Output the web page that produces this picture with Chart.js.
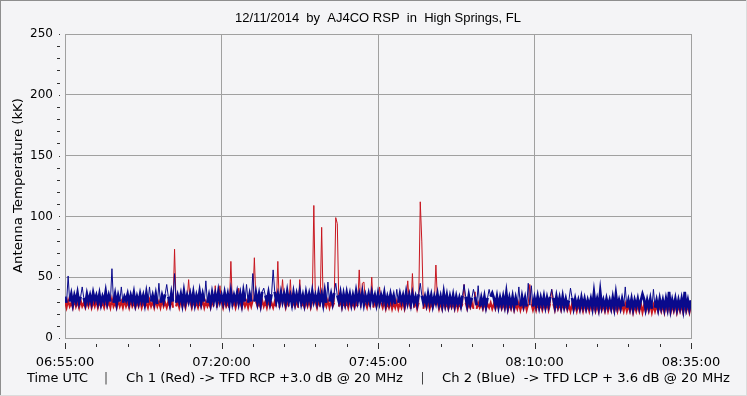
<!DOCTYPE html>
<html>
<head>
<meta charset="utf-8">
<title>AJ4CO RSP 12/11/2014</title>
<script src="https://cdn.jsdelivr.net/npm/chart.js@4.4.0/dist/chart.umd.min.js"></script>
<style>
    html, body { margin: 0; padding: 0; background: #f4f4f6; }
    #wrap { width: 747px; height: 396px; }
</style>
</head>
<body>
<div id="wrap"><canvas id="rsp-chart" width="747" height="396"></canvas></div>
<script>
// Sampling: one reading every 15 s from 06:55:00 UTC
const SAMPLE_STEP_MIN = 0.25;

// Tick labels
const timeLabels = ['06:55:00', '07:20:00', '07:45:00', '08:10:00', '08:35:00'];
const timeTickMinutes = [0, 25, 50, 75, 100];
const tempTicks = [0, 50, 100, 150, 200, 250];

// Ch 2 (Blue) -> TFD LCP, antenna temperature in kK (one row = 5 minutes)
const ch2Blue = [
    34,29,51,30,36,28,35,30,37,29,34,42,33,28,36,30,35,29,37,31,
    35,29,36,28,34,30,38,29,35,30,57,29,36,28,35,30,42,29,34,31,
    36,29,35,30,37,28,34,29,36,30,35,28,37,29,42,30,35,29,36,28,
    45,29,35,30,36,44,34,28,37,30,53,29,35,30,36,28,38,29,35,30,
    36,29,37,28,35,30,38,29,36,30,47,29,35,28,37,30,36,29,38,30,
    35,29,37,30,36,28,38,29,35,30,37,29,36,28,38,30,44,29,36,30,
    53,30,37,29,36,28,38,41,35,30,37,29,36,56,38,30,36,29,37,30,
    36,29,38,30,35,28,37,29,36,30,38,29,35,28,37,30,36,29,38,30,
    35,29,37,30,36,28,38,29,46,30,36,29,37,45,35,30,37,28,36,29,
    37,30,36,28,35,29,38,30,36,29,37,28,35,30,36,29,37,30,35,28,
    36,29,35,30,37,28,34,29,36,30,35,28,40,29,36,30,35,28,37,29,
    35,28,36,29,34,28,36,45,35,29,34,28,36,29,35,27,34,29,36,28,
    34,27,37,28,35,27,34,28,35,27,34,28,33,27,35,44,34,27,35,28,
    33,40,34,27,43,26,33,27,34,26,33,40,34,37,33,27,34,26,33,27,
    34,27,37,26,33,27,34,26,33,27,42,26,34,27,33,26,45,27,43,26,
    33,27,34,26,33,27,34,26,33,27,34,40,33,26,34,27,33,26,34,26,
    32,26,31,41,33,25,32,26,31,25,33,26,32,25,31,26,32,25,37,26,
    32,25,38,26,31,25,32,26,31,25,33,25,36,26,31,25,32,26,42,25,
    31,25,32,24,31,26,32,25,31,36,32,24,31,25,32,24,40,25,31,24,
    32,25,31,24,32,25,38,24,31,25,32,24,31,25,32,24,38,25,31,24,
    31
];

// Ch 1 (Red) -> TFD RCP, antenna temperature in kK
const ch1Red = [
    30,25,31,26,29,25,32,26,30,25,31,26,29,25,30,26,31,25,30,26,
    31,25,30,26,29,25,31,26,30,25,32,26,29,25,31,26,30,25,31,26,
    30,25,31,26,29,25,30,26,31,25,30,26,29,25,31,26,30,25,31,26,
    30,25,31,26,29,25,30,26,31,25,73,26,30,25,31,26,30,25,31,48,
    30,25,31,26,29,25,30,26,31,25,30,26,29,25,31,26,43,25,30,43,
    30,25,31,26,29,25,63,26,31,25,30,41,29,25,31,26,30,25,31,26,
    31,66,30,26,29,25,31,26,30,25,31,26,29,25,30,26,63,25,31,48,
    30,25,31,26,48,25,30,26,31,25,48,26,29,25,30,26,31,25,30,109,
    30,25,31,26,91,25,30,26,31,25,30,26,29,99,94,26,31,25,30,26,
    30,25,31,26,29,25,30,26,56,25,45,46,29,25,31,26,50,25,30,26,
    30,42,29,25,30,24,29,25,30,24,29,25,30,24,29,25,30,24,29,47,
    29,24,53,25,30,24,29,112,79,24,29,25,30,24,29,25,29,60,30,24,
    29,24,30,25,29,24,28,25,29,24,30,24,29,25,28,44,29,24,28,25,
    29,24,38,24,29,25,28,24,29,24,28,25,29,24,28,24,29,25,28,24,
    28,24,29,23,28,24,29,23,28,24,29,23,28,24,29,23,28,44,28,23,
    28,23,29,24,28,23,28,24,29,23,28,40,28,23,29,24,28,23,28,24,
    28,23,27,22,28,23,27,22,28,23,27,22,28,23,27,22,28,23,27,22,
    27,22,28,23,27,22,28,22,27,23,28,22,27,22,28,23,27,22,28,22,
    27,22,28,21,27,22,27,22,28,21,27,22,27,22,28,21,27,22,27,22,
    27,22,27,21,28,22,27,21,27,22,28,21,27,22,27,21,27,22,27,21,
    27
];

const TITLE_TEXT = '12/11/2014  by  AJ4CO RSP  in  High Springs, FL';
const Y_TITLE = 'Antenna Temperature (kK)';

// Footer pieces: text, left edge, width
const footerParts = [
    ['Time UTC', 27, 61],
    ['|', 104.5, 3],
    ['Ch 1 (Red) -> TFD RCP +3.0 dB @ 20 MHz', 126, 277],
    ['|', 421, 3],
    ['Ch 2 (Blue)  -> TFD LCP + 3.6 dB @ 20 MHz', 442, 288]
];

const AXIS_FONT = 'DejaVu Sans';
const GRID_COLOR = '#a0a0a0';

// Pair each reading with its time offset (minutes after 06:55:00)
function toPoints(values) {
    return values.map((v, i) => ({ x: i * SAMPLE_STEP_MIN, y: v }));
}

// Thicker stroke inside the noise band so it reads as a solid trace, thin on spikes
function bandWidth(limit, wide) {
    return ctx => Math.max(ctx.p0.parsed.y, ctx.p1.parsed.y) > limit ? 1 : wide;
}

// Draw text squeezed/stretched to a given width
function drawFitted(ctx, text, x, y, width) {
    const measured = ctx.measureText(text).width;
    ctx.save();
    ctx.translate(x, y);
    ctx.scale(width / measured, 1);
    ctx.textAlign = 'left';
    ctx.fillText(text, 0, 0);
    ctx.restore();
}

// Background, frame, minor ticks and free text
const framePlugin = {
    id: 'frame',
    beforeDraw(chart) {
        const ctx = chart.ctx;
        ctx.save();
        ctx.fillStyle = '#f4f4f6';
        ctx.fillRect(0, 0, chart.width, chart.height);
        ctx.fillStyle = '#8e8e8e';
        ctx.fillRect(0, 0, chart.width, 1);
        ctx.fillRect(0, 0, 1, chart.height);
        ctx.fillStyle = '#dcdcdc';
        ctx.fillRect(0, chart.height - 1, chart.width, 1);
        ctx.fillRect(chart.width - 1, 0, 1, chart.height);
        ctx.restore();
    },
    afterDraw(chart) {
        const ctx = chart.ctx;
        const xs = chart.scales.x;
        const ys = chart.scales.y;
        const area = chart.chartArea;
        ctx.save();
        ctx.fillStyle = '#303030';

        // x ticks: long at 25 min, short every 5 min
        for (let m = 0; m <= 100; m += 5) {
            const px = Math.round(xs.getPixelForValue(m));
            if (m % 25 === 0) {
                ctx.fillRect(px, area.bottom + 5, 1, 6);
            } else {
                ctx.fillRect(px, area.bottom + 6, 1, 3);
            }
        }

        // y ticks: dots at labels, short dashes every 10
        for (let v = 0; v <= 250; v += 10) {
            const py = Math.round(ys.getPixelForValue(v));
            if (v % 50 === 0) {
                ctx.fillRect(area.left - 6, py, 1, 1);
            } else {
                ctx.fillRect(area.left - 8, py, 3, 1);
            }
        }

        // Title
        ctx.fillStyle = '#000';
        ctx.textBaseline = 'middle';
        ctx.textAlign = 'center';
        ctx.font = '13px "Liberation Sans", Arial, sans-serif';
        ctx.fillText(TITLE_TEXT, 378, 18);

        // Footer
        ctx.font = '13px "' + AXIS_FONT + '", sans-serif';
        footerParts.forEach(([text, x, w]) => drawFitted(ctx, text, x, 379, w));

        // Y axis title
        ctx.translate(19, (area.top + area.bottom) / 2);
        ctx.rotate(-Math.PI / 2);
        drawFitted(ctx, Y_TITLE, -87, 0, 175);
        ctx.restore();
    }
};

function initializeChart() {
    Chart.defaults.font.family = AXIS_FONT;
    Chart.defaults.font.size = 12;
    Chart.defaults.color = '#000';

    new Chart(document.getElementById('rsp-chart'), {
        type: 'line',
        data: {
            datasets: [
                {
                    label: 'Ch 2 (Blue)',
                    data: toPoints(ch2Blue),
                    borderColor: '#0a0a8c',
                    borderWidth: 1,
                    segment: { borderWidth: bandWidth(39, 2.7) },
                    pointRadius: 0,
                    tension: 0,
                    fill: false
                },
                {
                    label: 'Ch 1 (Red)',
                    data: toPoints(ch1Red),
                    borderColor: '#c8161f',
                    borderWidth: 1,
                    segment: { borderWidth: bandWidth(34, 2) },
                    pointRadius: 0,
                    tension: 0,
                    fill: false
                }
            ]
        },
        options: {
            responsive: false,
            animation: false,
            devicePixelRatio: 1,
            layout: {
                padding: { top: 34, right: 56, bottom: 0, left: 0 }
            },
            plugins: {
                legend: { display: false },
                tooltip: { enabled: false }
            },
            scales: {
                x: {
                    type: 'linear',
                    min: 0,
                    max: 100,
                    afterFit: scale => { scale.height = 58; },
                    afterBuildTicks: scale => {
                        scale.ticks = timeTickMinutes.map(v => ({ value: v }));
                    },
                    ticks: {
                        padding: 17,
                        maxRotation: 0,
                        autoSkip: false,
                        font: { size: 13 },
                        callback: value => timeLabels[timeTickMinutes.indexOf(value)]
                    },
                    grid: { color: GRID_COLOR, drawTicks: false },
                    border: { color: GRID_COLOR }
                },
                y: {
                    min: 0,
                    max: 250,
                    afterFit: scale => { scale.width = 65; },
                    afterBuildTicks: scale => {
                        scale.ticks = tempTicks.map(v => ({ value: v }));
                    },
                    ticks: { padding: 12 },
                    grid: { color: GRID_COLOR, drawTicks: false },
                    border: { color: GRID_COLOR }
                }
            }
        },
        plugins: [framePlugin]
    });
}

document.addEventListener('DOMContentLoaded', initializeChart);
</script>
</body>
</html>
